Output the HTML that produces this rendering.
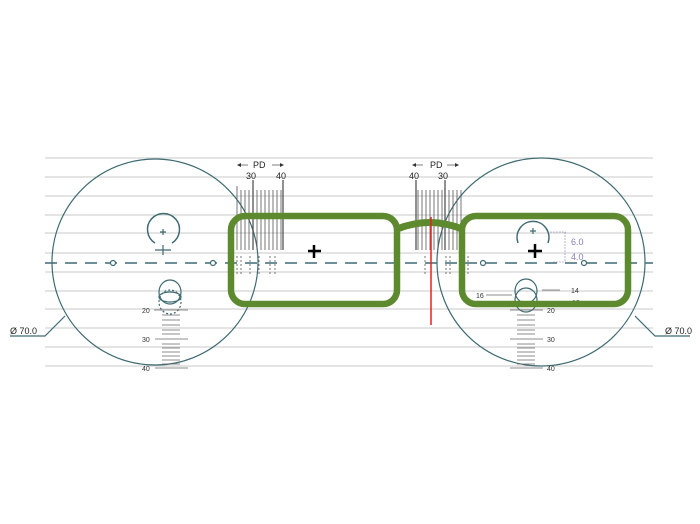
<!DOCTYPE html>
<html><head><style>html,body{margin:0;padding:0;background:#fff}</style></head><body>
<svg width="700" height="519" viewBox="0 0 700 519" xmlns="http://www.w3.org/2000/svg" font-family="Liberation Sans, sans-serif">
<rect width="700" height="519" fill="#fff"/>
<g stroke="#c8c8c8" stroke-width="1">
<line x1="45" y1="158" x2="653" y2="158"/><line x1="45" y1="177" x2="653" y2="177"/>
<line x1="45" y1="196" x2="653" y2="196"/><line x1="45" y1="215" x2="653" y2="215"/>
<line x1="45" y1="233" x2="653" y2="233"/><line x1="45" y1="253" x2="653" y2="253"/>
<line x1="45" y1="272" x2="653" y2="272"/><line x1="45" y1="291" x2="653" y2="291"/>
<line x1="45" y1="309" x2="653" y2="309"/><line x1="45" y1="328" x2="653" y2="328"/>
<line x1="45" y1="347" x2="653" y2="347"/><line x1="45" y1="366" x2="653" y2="366"/>
</g>
<g stroke="#3e6a72" fill="none" stroke-width="1.2">
<circle cx="155" cy="262" r="103"/>
<circle cx="541" cy="262" r="104"/>
<line x1="45" y1="263" x2="653" y2="263" stroke-width="1.5" stroke-dasharray="12,8"/>
<circle cx="113" cy="263" r="2.5" fill="#fff"/><circle cx="213" cy="263" r="2.5" fill="#fff"/>
<circle cx="483" cy="263" r="2.5" fill="#fff"/><circle cx="584" cy="263" r="2.5" fill="#fff"/>
<path d="M155 243 A16 16 0 1 1 172 243" stroke-width="1.5"/>
<path d="M518 243 A16 16 0 1 1 548 243" stroke-width="1.5"/>
<path d="M160 232h6M163 229v6M155 250h16M163 245v10"/>
<path d="M530 231h6M533 228v6"/>
<ellipse cx="170" cy="292" rx="11" ry="12"/><ellipse cx="170" cy="302" rx="11" ry="12" stroke-dasharray="2,2"/>
<ellipse cx="170" cy="297" rx="11" ry="5"/>
<ellipse cx="526" cy="291" rx="11" ry="12"/><ellipse cx="526" cy="300" rx="11" ry="12"/>
<path d="M10 336h35l20-20"/><path d="M690 336h-35l-20-20"/>
</g>
<g stroke="#666" stroke-width="0.8">
<line x1="154" y1="310" x2="188" y2="310"/><line x1="155" y1="339" x2="188" y2="339"/><line x1="155" y1="368" x2="188" y2="368"/>
<line x1="162" y1="315" x2="180" y2="315"/><line x1="162" y1="320" x2="180" y2="320"/><line x1="162" y1="325" x2="180" y2="325"/><line x1="162" y1="330" x2="180" y2="330"/><line x1="162" y1="334" x2="180" y2="334"/><line x1="162" y1="344" x2="180" y2="344"/><line x1="162" y1="348" x2="180" y2="348"/><line x1="162" y1="352" x2="180" y2="352"/><line x1="162" y1="356" x2="180" y2="356"/><line x1="162" y1="360" x2="180" y2="360"/><line x1="162" y1="364" x2="180" y2="364"/>
<line x1="510" y1="310" x2="543" y2="310"/><line x1="510" y1="339" x2="543" y2="339"/><line x1="510" y1="368" x2="543" y2="368"/>
<line x1="517" y1="315" x2="535" y2="315"/><line x1="517" y1="320" x2="535" y2="320"/><line x1="517" y1="325" x2="535" y2="325"/><line x1="517" y1="330" x2="535" y2="330"/><line x1="517" y1="334" x2="535" y2="334"/><line x1="517" y1="344" x2="535" y2="344"/><line x1="517" y1="348" x2="535" y2="348"/><line x1="517" y1="352" x2="535" y2="352"/><line x1="517" y1="356" x2="535" y2="356"/><line x1="517" y1="360" x2="535" y2="360"/><line x1="517" y1="364" x2="535" y2="364"/>
<path d="M486 295h26M560 290h-18M570 302h-16"/>
</g>
<g stroke="#555" stroke-width="0.8">
<path d="M237 186v64M241 190v60M245 190v60M249 190v60M257 190v60M261 190v60M265 190v60M269 190v60M273 190v60M277 190v60M281 190v60"/>
<path d="M253 180v70M283 180v70" stroke-width="1.3"/>
<path d="M418 190v60M422 190v60M426 190v60M430 190v60M434 190v60M438 190v60M442 190v60M449 190v60M453 190v60M457 190v60M461 190v60"/>
<path d="M416 180v70M445 180v70" stroke-width="1.3"/>
<path d="M238 165h10M272 165h11M413 165h10M447 165h11"/>
<path d="M237 256v20M241 256v20M250 256v20M259 256v20M270 256v20M275 256v20M425 256v20M446 256v20M450 256v20M468 256v20" stroke-dasharray="2,2"/>
</g>
<g fill="#333"><path d="M237 165l4-2v4zM284 165l-4-2v4zM412 165l4-2v4zM459 165l-4-2v4z"/></g>
<g font-size="9" fill="#222">
<text x="253" y="168">PD</text><text x="246" y="179">30</text><text x="276" y="179">40</text>
<text x="430" y="168">PD</text><text x="409" y="179">40</text><text x="438" y="179">30</text>
<text x="10" y="334">Ø 70.0</text><text x="665" y="334">Ø 70.0</text>
</g>
<g font-size="7" fill="#333">
<text x="142" y="313">20</text><text x="142" y="342">30</text><text x="142" y="371">40</text>
<text x="547" y="313">20</text><text x="547" y="342">30</text><text x="547" y="371">40</text>
<text x="476" y="298">16</text><text x="571" y="293">14</text><text x="572" y="305">18</text>
</g>
<g font-size="9" fill="#8a7fb8"><text x="571" y="245">6.0</text><text x="571" y="260">4.0</text></g>
<path d="M550 232h16M553 262h13M565 232v30" stroke="#8a7fb8" stroke-width="0.6" fill="none" stroke-dasharray="2,1"/>
<g fill="none" stroke="#5d8a2e" stroke-width="6.5">
<rect x="231" y="216" width="166" height="88" rx="14"/>
<rect x="462" y="216" width="166" height="88" rx="14"/>
<path d="M397 229 Q430 216 462 229" stroke-width="7"/>
</g>
<line x1="431" y1="217" x2="431" y2="325" stroke="#e8201e" stroke-width="1.5"/>
<g stroke="#000" stroke-width="2.5"><path d="M308 251h13M314 245v13M528 251h14M535 244v14"/></g>
</svg>
</body></html>
